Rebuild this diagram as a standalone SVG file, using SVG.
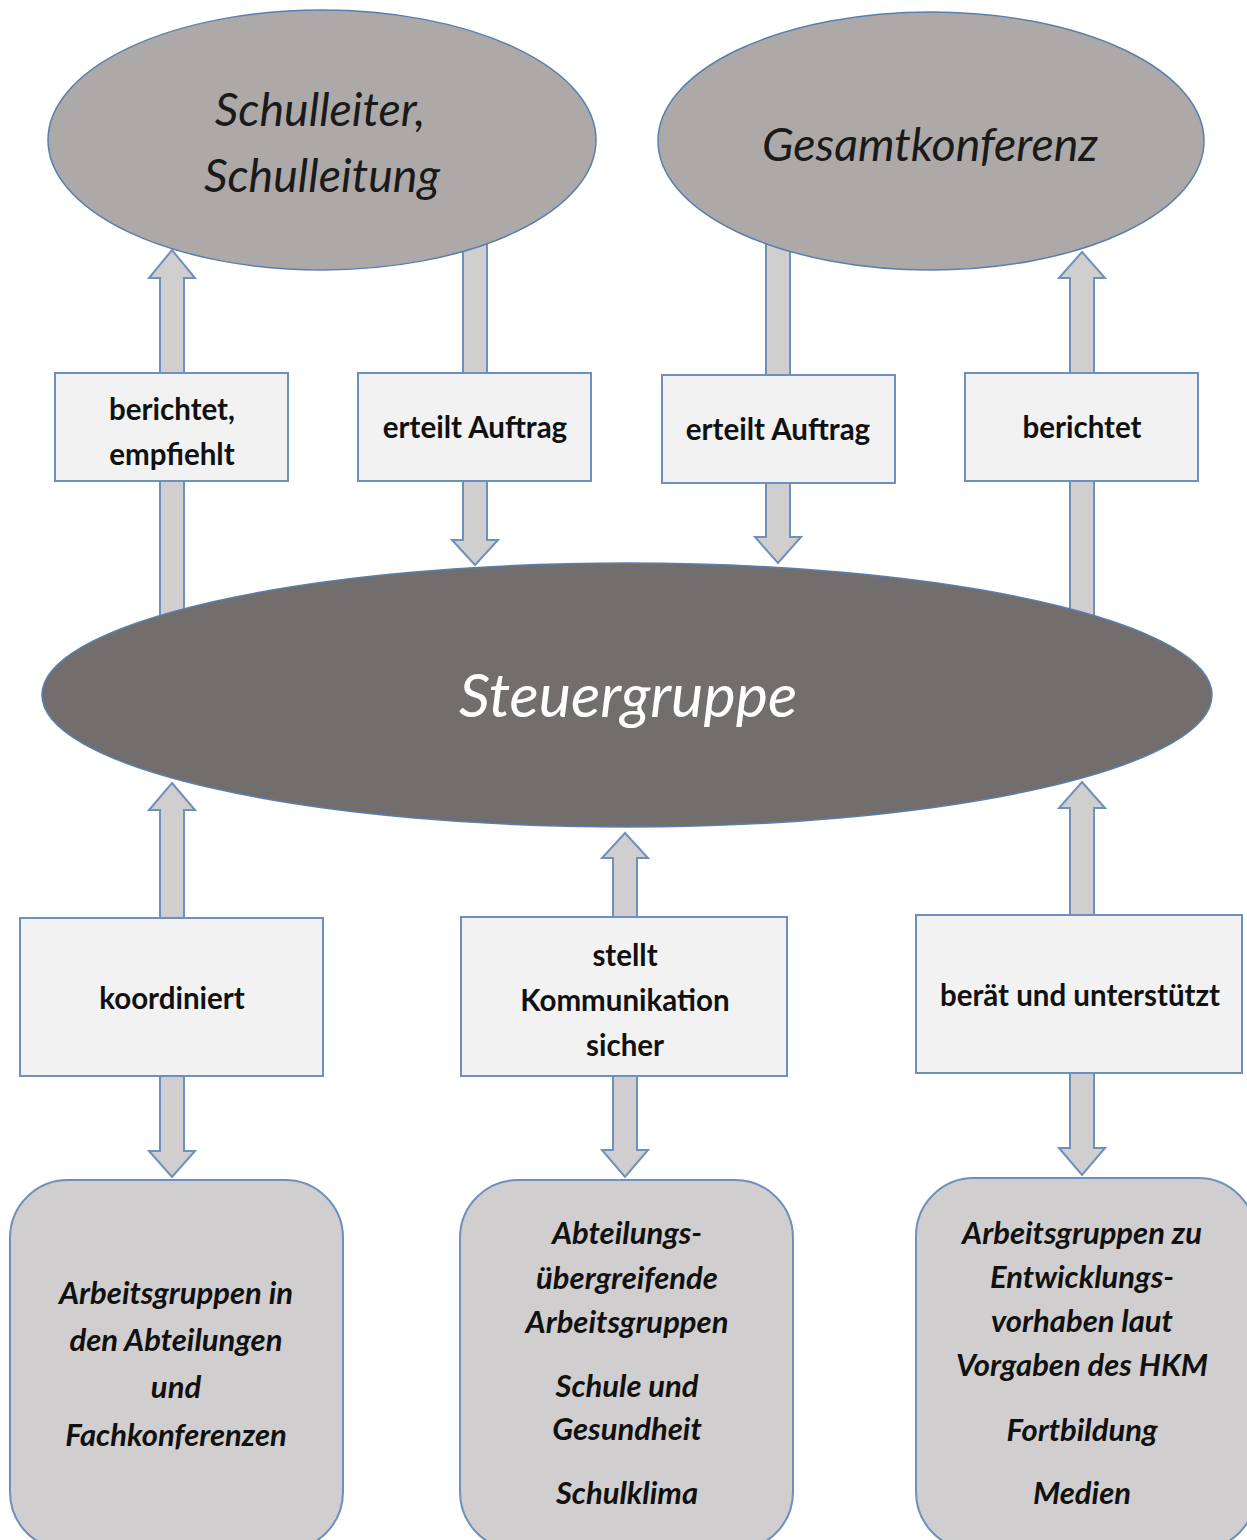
<svg xmlns="http://www.w3.org/2000/svg" width="1247" height="1540" viewBox="0 0 1247 1540">
<style>
  .ell-top { fill: #ADA9A8; stroke: #5A7FAE; stroke-width: 1.5; }
  .ell-main { fill: #726E6D; stroke: #5A7FAE; stroke-width: 1.5; }
  .lbl { fill: #F2F2F2; stroke: #6E90BC; stroke-width: 2; }
  .grp { fill: #D0CECE; stroke: #6E90BC; stroke-width: 2; }
  .arr { fill: #D0CECE; stroke: #6E90BC; stroke-width: 2; stroke-linejoin: miter; }
  .t-ell { font-family: Lato, "Open Sans", sans-serif; font-style: italic; font-size: 46.5px; fill: #1a1a1a; text-anchor: middle; }
  .t-main { font-family: Lato, "Open Sans", sans-serif; font-style: italic; font-size: 61px; fill: #ffffff; text-anchor: middle; }
  .t-lbl { font-family: Lato, "Open Sans", sans-serif; font-weight: bold; font-size: 29.5px; fill: #111; text-anchor: middle; }
  .t-grp { font-family: Lato, "Open Sans", sans-serif; font-weight: bold; font-style: italic; font-size: 31px; fill: #111; text-anchor: middle; }
</style>

<g id="connectors">
  <path class="arr" d="M160,640 L160,278 L149,278 L172,250 L195,278 L184,278 L184,640 Z"/>
  <path class="arr" d="M463,220 L463,540 L452,540 L475,565 L498,540 L487,540 L487,220 Z"/>
  <path class="arr" d="M766,220 L766,537 L755,537 L778,563 L801,537 L790,537 L790,220 Z"/>
  <path class="arr" d="M1070,640 L1070,278 L1059,278 L1082,252 L1105,278 L1094,278 L1094,640 Z"/>
  <path class="arr" d="M172,783 L195,810 L184,810 L184,1151 L195,1151 L172,1177 L149,1151 L160,1151 L160,810 L149,810 Z"/>
  <path class="arr" d="M625,833 L648,858 L637,858 L637,1150 L648,1150 L625,1177 L602,1150 L613,1150 L613,858 L602,858 Z"/>
  <path class="arr" d="M1082,782 L1105,808 L1094,808 L1094,1148 L1105,1148 L1082,1175 L1059,1148 L1070,1148 L1070,808 L1059,808 Z"/>
</g>

<g id="schulleitung">
  <ellipse class="ell-top" cx="322" cy="140" rx="274" ry="130"/>
  <text class="t-ell" x="320" y="126">Schulleiter,</text>
  <text class="t-ell" x="322" y="192">Schulleitung</text>
</g>

<g id="gesamtkonferenz">
  <ellipse class="ell-top" cx="931" cy="141" rx="273" ry="129"/>
  <text class="t-ell" x="930" y="161">Gesamtkonferenz</text>
</g>

<g id="steuergruppe">
  <ellipse class="ell-main" cx="627" cy="695" rx="585" ry="132"/>
  <text class="t-main" x="628" y="717">Steuergruppe</text>
</g>

<g id="lbl-berichtet-empfiehlt">
  <rect class="lbl" x="55" y="373" width="233" height="108"/>
  <text class="t-lbl" x="172" y="420">berichtet,</text>
  <text class="t-lbl" x="172" y="465">empfiehlt</text>
</g>
<g id="lbl-erteilt-1">
  <rect class="lbl" x="358" y="373" width="233" height="108"/>
  <text class="t-lbl" x="475" y="438">erteilt Auftrag</text>
</g>
<g id="lbl-erteilt-2">
  <rect class="lbl" x="662" y="375" width="233" height="108"/>
  <text class="t-lbl" x="778" y="440">erteilt Auftrag</text>
</g>
<g id="lbl-berichtet">
  <rect class="lbl" x="965" y="373" width="233" height="108"/>
  <text class="t-lbl" x="1082" y="438">berichtet</text>
</g>

<g id="lbl-koordiniert">
  <rect class="lbl" x="20" y="918" width="303" height="158"/>
  <text class="t-lbl" x="172" y="1009">koordiniert</text>
</g>
<g id="lbl-kommunikation">
  <rect class="lbl" x="461" y="917" width="326" height="159"/>
  <text class="t-lbl" x="625" y="966">stellt</text>
  <text class="t-lbl" x="625" y="1011">Kommunikation</text>
  <text class="t-lbl" x="625" y="1056">sicher</text>
</g>
<g id="lbl-beraet">
  <rect class="lbl" x="916" y="915" width="326" height="158"/>
  <text class="t-lbl" x="1080" y="1006">berät und unterstützt</text>
</g>

<g id="grp-abteilungen">
  <rect class="grp" x="10" y="1180" width="333" height="370" rx="58" ry="58"/>
  <text class="t-grp" x="176" y="1304">Arbeitsgruppen in</text>
  <text class="t-grp" x="176" y="1351">den Abteilungen</text>
  <text class="t-grp" x="176" y="1398">und</text>
  <text class="t-grp" x="176" y="1446">Fachkonferenzen</text>
</g>
<g id="grp-uebergreifend">
  <rect class="grp" x="460" y="1180" width="333" height="370" rx="58" ry="58"/>
  <text class="t-grp" x="627" y="1244">Abteilungs-</text>
  <text class="t-grp" x="627" y="1289">übergreifende</text>
  <text class="t-grp" x="627" y="1333">Arbeitsgruppen</text>
  <text class="t-grp" x="627" y="1397">Schule und</text>
  <text class="t-grp" x="627" y="1440">Gesundheit</text>
  <text class="t-grp" x="627" y="1504">Schulklima</text>
</g>
<g id="grp-entwicklung">
  <rect class="grp" x="916" y="1178" width="340" height="372" rx="58" ry="58"/>
  <text class="t-grp" x="1082" y="1244">Arbeitsgruppen zu</text>
  <text class="t-grp" x="1082" y="1288">Entwicklungs-</text>
  <text class="t-grp" x="1082" y="1332">vorhaben laut</text>
  <text class="t-grp" x="1082" y="1376">Vorgaben des HKM</text>
  <text class="t-grp" x="1082" y="1441">Fortbildung</text>
  <text class="t-grp" x="1082" y="1504">Medien</text>
</g>
</svg>
